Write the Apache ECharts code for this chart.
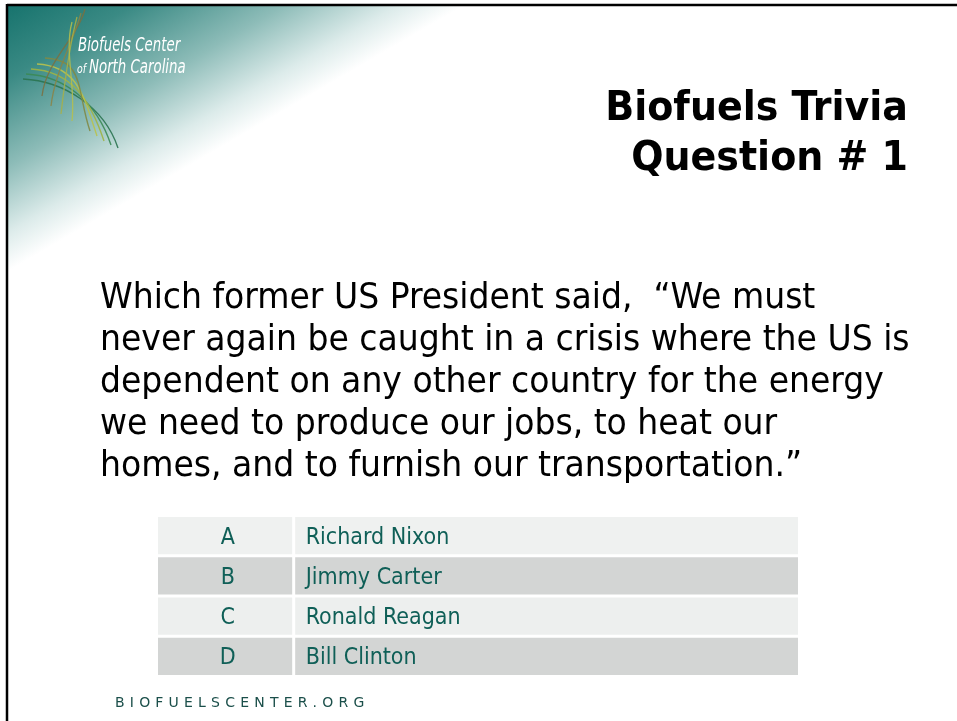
<!DOCTYPE html>
<html><head><meta charset="utf-8">
<script src="https://cdn.jsdelivr.net/npm/echarts@6/dist/echarts.min.js"></script>
<style>html,body{margin:0;padding:0;background:#fff}#c{width:957px;height:721px}</style>
</head><body><div id="c"></div>
<script>
// ---- content ----
const titleLines = ['Biofuels Trivia', 'Question # 1'];
const questionLines = [
  'Which former US President said,  \u201CWe must',
  'never again be caught in a crisis where the US is',
  'dependent on any other country for the energy',
  'we need to produce our jobs, to heat our',
  'homes, and to furnish our transportation.\u201D'
];
const answerLetters = ['A', 'B', 'C', 'D'];
const answerNames = ['Richard Nixon', 'Jimmy Carter', 'Ronald Reagan', 'Bill Clinton'];
const logoWords = ['Biofuels Center', 'of', 'North Carolina'];
const footerText = 'BIOFUELSCENTER.ORG';

// ---- layout / style ----
const BODY_FONT = '"DejaVu Sans Condensed", "DejaVu Sans", sans-serif';
const teal = '#0f5f57';
const rowFills = ['#eff1f0', '#d3d5d4', '#edefee', '#d3d5d4'];
const colDivide = 0.212;

const chart = echarts.init(document.getElementById('c'), null, {renderer: 'canvas'});

const graphics = [];
// background gradient wedge
graphics.push({
  type: 'rect', z: 0, silent: true,
  shape: {x: 8, y: 6, width: 490, height: 290},
  style: {fill: {type: 'linear', x: 0, y: 0, x2: 120, y2: 206, global: true,
    colorStops: [
      {offset: 0, color: '#12706a'},
      {offset: 0.3, color: '#3a8a84'},
      {offset: 0.62, color: '#8dbcb8'},
      {offset: 0.86, color: '#dcebea'},
      {offset: 1, color: '#ffffff'}
    ]}}
});
// borders
graphics.push({type: 'line', z: 5, shape: {x1: 7, y1: 5, x2: 957, y2: 5}, style: {stroke: '#000', lineWidth: 2.5}});
graphics.push({type: 'line', z: 5, shape: {x1: 7, y1: 4, x2: 7, y2: 721}, style: {stroke: '#000', lineWidth: 2.5}});

// logo blades: group from left sweeping to lower right
const sweepStarts = [[23, 79], [26, 74], [31, 69], [37, 64], [45, 58]];
const sweepEnds = [[118, 148], [111, 145], [104, 141], [97, 136], [90, 131]];
const sweepColors = ['#2a7350', '#3b8a55', '#9fb445', '#b9c24c', '#7f8a46'];
sweepStarts.forEach((s, i) => {
  const e = sweepEnds[i];
  graphics.push({type: 'bezierCurve', z: 3, silent: true,
    shape: {x1: s[0], y1: s[1], cpx1: s[0] + 40, cpy1: s[1] + 2, cpx2: e[0] - 14, cpy2: e[1] - 42, x2: e[0], y2: e[1]},
    style: {stroke: sweepColors[i], lineWidth: 1.4, fill: null, opacity: 0.9}});
});
// blades from top sweeping down-left
const dropStarts = [[85, 9], [81, 13], [77, 17], [72, 22]];
const dropEnds = [[42, 96], [51, 106], [61, 114], [72, 121]];
const dropColors = ['#7d6e3e', '#8c8244', '#a8b046', '#b6bf4c'];
dropStarts.forEach((s, i) => {
  const e = dropEnds[i];
  graphics.push({type: 'bezierCurve', z: 3, silent: true,
    shape: {x1: s[0], y1: s[1], cpx1: s[0] - 8, cpy1: s[1] + 30, cpx2: e[0] + 4, cpy2: e[1] - 35, x2: e[0], y2: e[1]},
    style: {stroke: dropColors[i], lineWidth: 1.3, fill: null, opacity: 0.85}});
});
// logo text
const LOGO_FONT = '"Liberation Sans Narrow", "DejaVu Sans Condensed", sans-serif';
graphics.push({type: 'text', z: 4, x: 78, y: 46, scaleX: 0.78, style: {text: logoWords[0], x: 0, y: 0, verticalAlign: 'middle',
  fill: '#ffffff', font: 'italic 19px ' + LOGO_FONT}});
graphics.push({type: 'text', z: 4, x: 77, y: 70, scaleX: 0.8, style: {text: logoWords[1], x: 0, y: 0, verticalAlign: 'middle',
  fill: '#ffffff', font: 'italic 13px ' + LOGO_FONT}});
graphics.push({type: 'text', z: 4, x: 89, y: 68, scaleX: 0.78, style: {text: logoWords[2], x: 0, y: 0, verticalAlign: 'middle',
  fill: '#ffffff', font: 'italic 19px ' + LOGO_FONT}});

// title
titleLines.forEach((t, i) => graphics.push({
  type: 'text', z: 4, x: 908, y: 109 + i * 50, scaleX: 1.03,
  style: {text: t, x: 0, y: 0, align: 'right', verticalAlign: 'middle',
    fill: '#000', font: 'bold 41px ' + BODY_FONT}
}));
// question
questionLines.forEach((t, i) => graphics.push({
  type: 'text', z: 4, x: 100, y: 299 + i * 42, scaleX: 1.021,
  style: {text: t, x: 0, y: 0, verticalAlign: 'middle',
    fill: '#000', font: '36px ' + BODY_FONT}
}));
// footer, letter-spaced
(function () {
  const ctx = document.createElement('canvas').getContext('2d');
  const f = '14px "DejaVu Sans", sans-serif';
  ctx.font = f;
  let x = 115;
  for (const ch of footerText) {
    graphics.push({type: 'text', z: 4, style: {text: ch, x: x, y: 703, verticalAlign: 'middle', fill: '#1b4f4a', font: f}});
    x += ctx.measureText(ch).width + 5.2;
  }
})();

chart.setOption({
  animation: false,
  backgroundColor: '#ffffff',
  grid: {left: 158, top: 515.5, width: 640, height: 161},
  xAxis: {type: 'value', min: 0, max: 1, show: false},
  yAxis: {type: 'category', data: answerLetters, inverse: true, show: false},
  graphic: graphics,
  series: [{
    type: 'custom',
    silent: true,
    data: answerLetters.map((l, i) => [i]),
    encode: {y: 0},
    renderItem: function (params, api) {
      const i = api.value(0);
      const p0 = api.coord([0, i]);
      const p1 = api.coord([1, i]);
      const pd = api.coord([colDivide, i]);
      const bh = api.size([0, 1])[1];
      const top = p0[1] - bh / 2 + 1.5, h = bh - 3;
      const fill = rowFills[i % rowFills.length];
      const tf = '23px ' + BODY_FONT;
      return {type: 'group', children: [
        {type: 'rect', shape: {x: p0[0], y: top, width: pd[0] - p0[0] - 1.5, height: h}, style: {fill: fill}},
        {type: 'rect', shape: {x: pd[0] + 1.5, y: top, width: p1[0] - pd[0] - 1.5, height: h}, style: {fill: fill}},
        {type: 'text', style: {text: answerLetters[i], x: (p0[0] + pd[0]) / 2 + 2, y: p0[1] + 2, align: 'center', verticalAlign: 'middle', fill: teal, font: tf}},
        {type: 'text', style: {text: answerNames[i], x: pd[0] + 12, y: p0[1] + 2, align: 'left', verticalAlign: 'middle', fill: teal, font: tf}}
      ]};
    }
  }]
});
</script>
</body></html>
